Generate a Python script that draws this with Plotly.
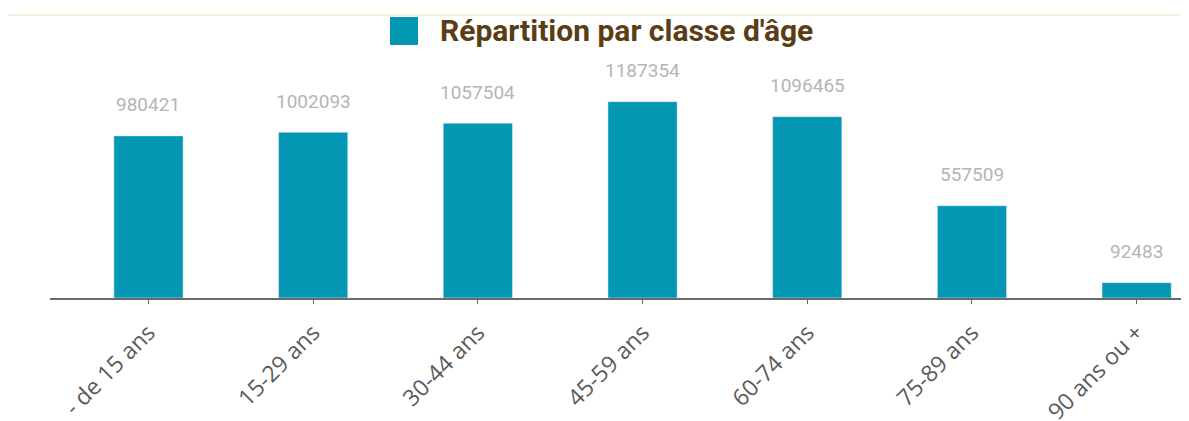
import plotly.graph_objects as go

categories = ["- de 15 ans", "15-29 ans", "30-44 ans", "45-59 ans", "60-74 ans", "75-89 ans", "90 ans ou +"]
values = [980421, 1002093, 1057504, 1187354, 1096465, 557509, 92483]
series_name = "Répartition par classe d'âge"

W, H = 1189, 421
OFF = 8  # page body margin
L, R, T, B = 50 - OFF, OFF, 50 - OFF, 421 - (298 - OFF)
ph = H - T - B
pw = W - L - R

def px_x(p):
    return (p - OFF - L) / pw

def px_y(p):
    return 1 + (T - (p - OFF)) / ph

fig = go.Figure()
fig.add_trace(go.Bar(
    x=categories, y=values, marker_color="#0497B4", width=0.42,
    name=series_name, showlegend=False,
))

for c, v in zip(categories, values):
    fig.add_annotation(x=c, y=v, text=f"{v}", showarrow=False, yshift=31,
                       font=dict(family="Roboto", size=19, color="#b5b5b5"))

# legend drawn manually (large square)
fig.add_shape(type="rect", xref="paper", yref="paper",
              x0=px_x(390), x1=px_x(418), y0=px_y(45), y1=px_y(17),
              fillcolor="#0497B4", line_width=0)
fig.add_annotation(xref="paper", yref="paper", x=px_x(438), y=px_y(31),
                   xanchor="left", yanchor="middle", showarrow=False,
                   text="<b>" + series_name + "</b>",
                   font=dict(family="Roboto", size=30, color="#5A3D14"))
# faint top border
fig.add_shape(type="line", xref="paper", yref="paper", x0=-1, x1=1.2,
              y0=px_y(15), y1=px_y(15), line=dict(color="#efefd6", width=1.5))

fig.update_layout(
    width=W, height=H, margin=dict(l=L, r=R, t=T, b=B),
    paper_bgcolor="white", plot_bgcolor="white",
    xaxis=dict(range=[-0.598, 6.318], showline=True, linecolor="#6a6a6a", linewidth=2,
               ticks="outside", ticklen=4, tickcolor="#6a6a6a", tickangle=-45,
               ticklabelstandoff=6, automargin=False,
               tickfont=dict(family="Open Sans", size=23, color="#5a5a5a"),
               showgrid=False, fixedrange=True),
    yaxis=dict(range=[0, 1500000], visible=False, showgrid=False, automargin=False),
    bargap=0.58,
)

fig.write_html("out.html")
